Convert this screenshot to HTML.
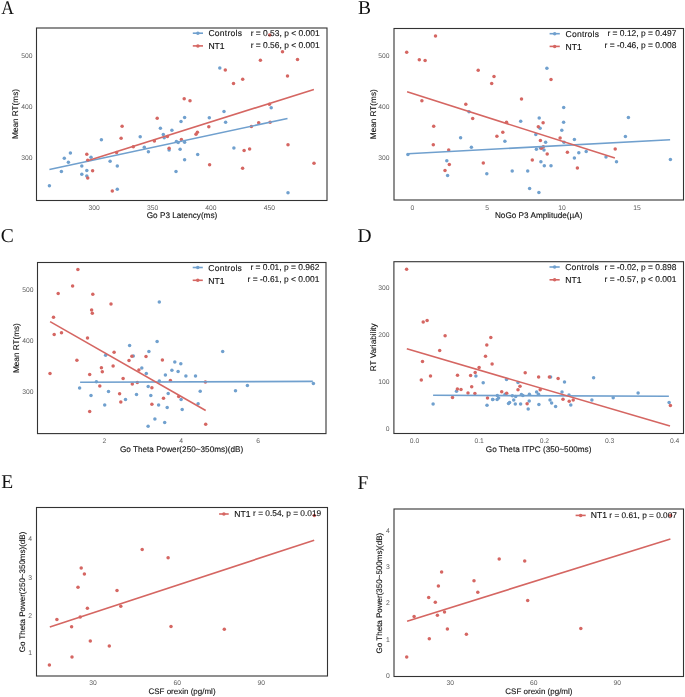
<!DOCTYPE html><html><head><meta charset="utf-8"><style>html,body{margin:0;padding:0;background:#fff;}svg{display:block;will-change:transform;text-rendering:geometricPrecision;}.s{font-family:"Liberation Sans",sans-serif;stroke-width:0.12px;paint-order:stroke;}.r{font-family:"Liberation Serif",serif;}</style></head><body>
<svg width="685" height="697" viewBox="0 0 685 697">
<rect width="685" height="697" fill="#fff"/>
<g fill="#70a0ce"><circle cx="49.4" cy="185.7" r="1.75"/><circle cx="61.4" cy="171.4" r="1.75"/><circle cx="64.3" cy="158.2" r="1.75"/><circle cx="68.4" cy="162.2" r="1.75"/><circle cx="70.4" cy="153.1" r="1.75"/><circle cx="81.8" cy="166.1" r="1.75"/><circle cx="81.8" cy="174.3" r="1.75"/><circle cx="86.8" cy="170.5" r="1.75"/><circle cx="86.8" cy="175.9" r="1.75"/><circle cx="91" cy="157.2" r="1.75"/><circle cx="101.4" cy="139.7" r="1.75"/><circle cx="110.1" cy="161.2" r="1.75"/><circle cx="117.3" cy="166.1" r="1.75"/><circle cx="117.3" cy="189.2" r="1.75"/><circle cx="140.2" cy="136.8" r="1.75"/><circle cx="144.3" cy="147.3" r="1.75"/><circle cx="148.4" cy="151.7" r="1.75"/><circle cx="160.4" cy="128.3" r="1.75"/><circle cx="163.3" cy="134.5" r="1.75"/><circle cx="164.2" cy="137.8" r="1.75"/><circle cx="171.9" cy="130.2" r="1.75"/><circle cx="181" cy="121.5" r="1.75"/><circle cx="169.1" cy="150.1" r="1.75"/><circle cx="176.4" cy="141.5" r="1.75"/><circle cx="178.2" cy="142.5" r="1.75"/><circle cx="184.6" cy="142.2" r="1.75"/><circle cx="180.1" cy="149.3" r="1.75"/><circle cx="184.6" cy="159.7" r="1.75"/><circle cx="176" cy="171.4" r="1.75"/><circle cx="197.7" cy="154.5" r="1.75"/><circle cx="225.6" cy="122.2" r="1.75"/><circle cx="233.9" cy="148" r="1.75"/><circle cx="288" cy="192.8" r="1.75"/><circle cx="219.8" cy="68.1" r="1.75"/><circle cx="184.6" cy="117.4" r="1.75"/><circle cx="209.3" cy="117.7" r="1.75"/><circle cx="224" cy="111.5" r="1.75"/><circle cx="271.2" cy="107.7" r="1.75"/></g>
<g fill="#d56662"><circle cx="86.8" cy="154.2" r="1.75"/><circle cx="87.7" cy="160.3" r="1.75"/><circle cx="92.6" cy="170.8" r="1.75"/><circle cx="87.7" cy="178.1" r="1.75"/><circle cx="112.3" cy="191.1" r="1.75"/><circle cx="121.1" cy="138.2" r="1.75"/><circle cx="122.1" cy="126.3" r="1.75"/><circle cx="116.6" cy="152.4" r="1.75"/><circle cx="133.3" cy="146.7" r="1.75"/><circle cx="154.4" cy="140.9" r="1.75"/><circle cx="167.4" cy="136.4" r="1.75"/><circle cx="169.1" cy="148.2" r="1.75"/><circle cx="181.4" cy="139.4" r="1.75"/><circle cx="196" cy="134.2" r="1.75"/><circle cx="197.4" cy="132.3" r="1.75"/><circle cx="208.8" cy="126.7" r="1.75"/><circle cx="209.6" cy="164.7" r="1.75"/><circle cx="244.1" cy="150.4" r="1.75"/><circle cx="249.6" cy="149" r="1.75"/><circle cx="242.6" cy="168.2" r="1.75"/><circle cx="288" cy="144.7" r="1.75"/><circle cx="314" cy="163.3" r="1.75"/><circle cx="251.4" cy="126.4" r="1.75"/><circle cx="258.7" cy="122.7" r="1.75"/><circle cx="270.1" cy="122.2" r="1.75"/><circle cx="225.3" cy="69.9" r="1.75"/><circle cx="184.2" cy="98.8" r="1.75"/><circle cx="190" cy="100.7" r="1.75"/><circle cx="157.2" cy="118.3" r="1.75"/><circle cx="269.7" cy="35.1" r="1.75"/><circle cx="282.5" cy="51.8" r="1.75"/><circle cx="297.5" cy="59.4" r="1.75"/><circle cx="260.4" cy="60.3" r="1.75"/><circle cx="287.5" cy="76.1" r="1.75"/><circle cx="242.7" cy="79.2" r="1.75"/><circle cx="233.5" cy="83.4" r="1.75"/><circle cx="269.4" cy="104.2" r="1.75"/></g>
<line x1="49.4" y1="169.5" x2="287.5" y2="118.5" stroke="#70a0ce" stroke-width="1.6"/>
<line x1="86.8" y1="160.9" x2="313.9" y2="89.5" stroke="#d56662" stroke-width="1.6"/>
<rect x="36.5" y="28" width="290.5" height="172.5" fill="none" stroke="#333333" stroke-width="1.1"/>
<g fill="#70a0ce"><circle cx="407.9" cy="154.5" r="1.75"/><circle cx="469" cy="111.7" r="1.75"/><circle cx="460.6" cy="137.7" r="1.75"/><circle cx="471.4" cy="147.2" r="1.75"/><circle cx="446.8" cy="160.7" r="1.75"/><circle cx="447.6" cy="175.6" r="1.75"/><circle cx="486.8" cy="173.7" r="1.75"/><circle cx="546.9" cy="68.3" r="1.75"/><circle cx="563.7" cy="107.5" r="1.75"/><circle cx="539.2" cy="118" r="1.75"/><circle cx="520.7" cy="121.3" r="1.75"/><circle cx="563.6" cy="122.2" r="1.75"/><circle cx="540.1" cy="128.3" r="1.75"/><circle cx="561.8" cy="130.2" r="1.75"/><circle cx="535.8" cy="134.5" r="1.75"/><circle cx="504.9" cy="141.3" r="1.75"/><circle cx="545.6" cy="142.3" r="1.75"/><circle cx="564" cy="142.3" r="1.75"/><circle cx="574.4" cy="139.6" r="1.75"/><circle cx="536.4" cy="149.3" r="1.75"/><circle cx="540.4" cy="147.9" r="1.75"/><circle cx="544" cy="149.9" r="1.75"/><circle cx="578.8" cy="152.8" r="1.75"/><circle cx="586.2" cy="151.5" r="1.75"/><circle cx="574.4" cy="158" r="1.75"/><circle cx="540.9" cy="161.8" r="1.75"/><circle cx="544.3" cy="165.7" r="1.75"/><circle cx="551" cy="165.8" r="1.75"/><circle cx="512.2" cy="171.1" r="1.75"/><circle cx="527.7" cy="171.1" r="1.75"/><circle cx="529.6" cy="188.6" r="1.75"/><circle cx="538.9" cy="192.4" r="1.75"/><circle cx="628.4" cy="117.5" r="1.75"/><circle cx="625.4" cy="136.6" r="1.75"/><circle cx="606" cy="156.9" r="1.75"/><circle cx="616.5" cy="161.8" r="1.75"/><circle cx="670.4" cy="159.6" r="1.75"/></g>
<g fill="#d56662"><circle cx="435.5" cy="35.9" r="1.75"/><circle cx="406.7" cy="52.2" r="1.75"/><circle cx="419.3" cy="59.8" r="1.75"/><circle cx="425.1" cy="60.6" r="1.75"/><circle cx="478.2" cy="70.3" r="1.75"/><circle cx="494" cy="76.5" r="1.75"/><circle cx="491.7" cy="83.5" r="1.75"/><circle cx="421.9" cy="100.7" r="1.75"/><circle cx="465.8" cy="104.2" r="1.75"/><circle cx="472.7" cy="118.4" r="1.75"/><circle cx="433.7" cy="126.3" r="1.75"/><circle cx="433.3" cy="144.7" r="1.75"/><circle cx="448.7" cy="149.9" r="1.75"/><circle cx="449.3" cy="164.4" r="1.75"/><circle cx="445" cy="170.5" r="1.75"/><circle cx="483.3" cy="163.1" r="1.75"/><circle cx="521.5" cy="99.1" r="1.75"/><circle cx="551" cy="79.4" r="1.75"/><circle cx="506.5" cy="122.3" r="1.75"/><circle cx="502.8" cy="132.3" r="1.75"/><circle cx="496.9" cy="136.2" r="1.75"/><circle cx="543.1" cy="122.8" r="1.75"/><circle cx="538.3" cy="126.7" r="1.75"/><circle cx="540.4" cy="140.6" r="1.75"/><circle cx="543.3" cy="146.7" r="1.75"/><circle cx="541.5" cy="148.2" r="1.75"/><circle cx="547.2" cy="154" r="1.75"/><circle cx="560.1" cy="138.1" r="1.75"/><circle cx="567.4" cy="152.3" r="1.75"/><circle cx="532.3" cy="160" r="1.75"/><circle cx="577.4" cy="167.9" r="1.75"/><circle cx="615.2" cy="148.9" r="1.75"/></g>
<line x1="407.9" y1="153.7" x2="670.1" y2="139.7" stroke="#70a0ce" stroke-width="1.6"/>
<line x1="407.1" y1="91.8" x2="614.9" y2="158.1" stroke="#d56662" stroke-width="1.6"/>
<rect x="394" y="28.5" width="289.5" height="171.5" fill="none" stroke="#333333" stroke-width="1.1"/>
<g fill="#70a0ce"><circle cx="129.6" cy="345.4" r="1.75"/><circle cx="105.6" cy="355.3" r="1.75"/><circle cx="133.3" cy="355.9" r="1.75"/><circle cx="96.4" cy="381.7" r="1.75"/><circle cx="79.6" cy="388.1" r="1.75"/><circle cx="91" cy="395.4" r="1.75"/><circle cx="108.5" cy="391.6" r="1.75"/><circle cx="125.5" cy="399.4" r="1.75"/><circle cx="104.7" cy="404.9" r="1.75"/><circle cx="136.5" cy="394.5" r="1.75"/><circle cx="159.3" cy="302.1" r="1.75"/><circle cx="157.1" cy="341.4" r="1.75"/><circle cx="148.9" cy="351.5" r="1.75"/><circle cx="222.7" cy="351.4" r="1.75"/><circle cx="174.8" cy="361.9" r="1.75"/><circle cx="180.8" cy="363.8" r="1.75"/><circle cx="141.8" cy="368.1" r="1.75"/><circle cx="146.3" cy="373.4" r="1.75"/><circle cx="171.9" cy="370.3" r="1.75"/><circle cx="178.1" cy="371.4" r="1.75"/><circle cx="165.4" cy="375" r="1.75"/><circle cx="185.9" cy="376" r="1.75"/><circle cx="195.5" cy="376" r="1.75"/><circle cx="159.3" cy="381" r="1.75"/><circle cx="148.2" cy="386.5" r="1.75"/><circle cx="200.2" cy="391.2" r="1.75"/><circle cx="150.8" cy="395.4" r="1.75"/><circle cx="168.2" cy="393.4" r="1.75"/><circle cx="181.1" cy="399.5" r="1.75"/><circle cx="198.1" cy="403.8" r="1.75"/><circle cx="158.6" cy="404.9" r="1.75"/><circle cx="167.2" cy="407.6" r="1.75"/><circle cx="182.2" cy="409.6" r="1.75"/><circle cx="154.9" cy="418.9" r="1.75"/><circle cx="164.7" cy="422.6" r="1.75"/><circle cx="148.1" cy="426.2" r="1.75"/><circle cx="235.5" cy="390.8" r="1.75"/><circle cx="247.4" cy="385.4" r="1.75"/><circle cx="313.4" cy="383.6" r="1.75"/></g>
<g fill="#d56662"><circle cx="77.9" cy="269.6" r="1.75"/><circle cx="72.6" cy="285.9" r="1.75"/><circle cx="58.2" cy="293.5" r="1.75"/><circle cx="92.8" cy="294.3" r="1.75"/><circle cx="111" cy="304" r="1.75"/><circle cx="91.6" cy="310" r="1.75"/><circle cx="92.3" cy="313.2" r="1.75"/><circle cx="53.5" cy="317.2" r="1.75"/><circle cx="54.2" cy="334.4" r="1.75"/><circle cx="61.5" cy="332.8" r="1.75"/><circle cx="87.5" cy="337.9" r="1.75"/><circle cx="76.9" cy="360.3" r="1.75"/><circle cx="50" cy="373.4" r="1.75"/><circle cx="89.7" cy="374.4" r="1.75"/><circle cx="101.4" cy="367.8" r="1.75"/><circle cx="102.3" cy="371.8" r="1.75"/><circle cx="114.1" cy="352.2" r="1.75"/><circle cx="113.1" cy="366.1" r="1.75"/><circle cx="99.8" cy="386.1" r="1.75"/><circle cx="123.1" cy="378.4" r="1.75"/><circle cx="129" cy="360.5" r="1.75"/><circle cx="131.9" cy="356.3" r="1.75"/><circle cx="132.3" cy="384.1" r="1.75"/><circle cx="119.6" cy="393.8" r="1.75"/><circle cx="120.8" cy="401.9" r="1.75"/><circle cx="89.7" cy="411.4" r="1.75"/><circle cx="146" cy="356.6" r="1.75"/><circle cx="162.4" cy="360.1" r="1.75"/><circle cx="138.9" cy="370" r="1.75"/><circle cx="170.4" cy="380.4" r="1.75"/><circle cx="205.4" cy="381.9" r="1.75"/><circle cx="137.3" cy="382.6" r="1.75"/><circle cx="151.9" cy="387.7" r="1.75"/><circle cx="163.5" cy="398.2" r="1.75"/><circle cx="178.7" cy="396.5" r="1.75"/><circle cx="151.9" cy="404.2" r="1.75"/><circle cx="205.7" cy="424.3" r="1.75"/></g>
<line x1="80.1" y1="382.3" x2="312.8" y2="381.4" stroke="#70a0ce" stroke-width="1.6"/>
<line x1="50.1" y1="321.6" x2="205.7" y2="410.5" stroke="#d56662" stroke-width="1.6"/>
<rect x="37.5" y="262.5" width="288.5" height="171.1" fill="none" stroke="#333333" stroke-width="1.1"/>
<g fill="#70a0ce"><circle cx="475.9" cy="376" r="1.75"/><circle cx="483.2" cy="382.7" r="1.75"/><circle cx="456.5" cy="391.2" r="1.75"/><circle cx="433.1" cy="403.9" r="1.75"/><circle cx="487" cy="405.2" r="1.75"/><circle cx="492.8" cy="399.5" r="1.75"/><circle cx="550.6" cy="376.9" r="1.75"/><circle cx="506.5" cy="379.4" r="1.75"/><circle cx="518" cy="382.6" r="1.75"/><circle cx="505.1" cy="394.2" r="1.75"/><circle cx="497.3" cy="395.4" r="1.75"/><circle cx="498.6" cy="398" r="1.75"/><circle cx="497.1" cy="399.5" r="1.75"/><circle cx="492.7" cy="399.6" r="1.75"/><circle cx="512.3" cy="395.8" r="1.75"/><circle cx="515.7" cy="396.5" r="1.75"/><circle cx="513.7" cy="400.1" r="1.75"/><circle cx="521.4" cy="394.6" r="1.75"/><circle cx="522.9" cy="395.4" r="1.75"/><circle cx="529.4" cy="394.2" r="1.75"/><circle cx="536.6" cy="392" r="1.75"/><circle cx="538.5" cy="394.2" r="1.75"/><circle cx="509.6" cy="402.6" r="1.75"/><circle cx="508.5" cy="403.6" r="1.75"/><circle cx="515.3" cy="404.1" r="1.75"/><circle cx="520.6" cy="403.9" r="1.75"/><circle cx="529.2" cy="401.1" r="1.75"/><circle cx="528.2" cy="408.9" r="1.75"/><circle cx="538.9" cy="404.6" r="1.75"/><circle cx="564.5" cy="382.1" r="1.75"/><circle cx="562" cy="392" r="1.75"/><circle cx="569" cy="395" r="1.75"/><circle cx="550" cy="400.1" r="1.75"/><circle cx="551.6" cy="403" r="1.75"/><circle cx="555.6" cy="406.6" r="1.75"/><circle cx="570.8" cy="404.9" r="1.75"/><circle cx="593.6" cy="377.8" r="1.75"/><circle cx="591.9" cy="400.1" r="1.75"/><circle cx="613.2" cy="397.7" r="1.75"/><circle cx="638.1" cy="393.1" r="1.75"/><circle cx="669.1" cy="402.5" r="1.75"/></g>
<g fill="#d56662"><circle cx="406.6" cy="269.3" r="1.75"/><circle cx="423.2" cy="322.1" r="1.75"/><circle cx="427.1" cy="320.5" r="1.75"/><circle cx="445.1" cy="335.7" r="1.75"/><circle cx="490.8" cy="337.5" r="1.75"/><circle cx="486.8" cy="344.9" r="1.75"/><circle cx="439.7" cy="350.6" r="1.75"/><circle cx="485.5" cy="356.2" r="1.75"/><circle cx="422.5" cy="361.4" r="1.75"/><circle cx="492.1" cy="364.1" r="1.75"/><circle cx="479.1" cy="367.6" r="1.75"/><circle cx="475.2" cy="372.5" r="1.75"/><circle cx="457.5" cy="375.3" r="1.75"/><circle cx="470.6" cy="375.4" r="1.75"/><circle cx="430.5" cy="376" r="1.75"/><circle cx="421.3" cy="380.1" r="1.75"/><circle cx="471.7" cy="386.8" r="1.75"/><circle cx="457.4" cy="388.9" r="1.75"/><circle cx="461" cy="389.5" r="1.75"/><circle cx="468" cy="393" r="1.75"/><circle cx="474.9" cy="393.4" r="1.75"/><circle cx="452.5" cy="397.5" r="1.75"/><circle cx="487.5" cy="398.1" r="1.75"/><circle cx="525.2" cy="372.7" r="1.75"/><circle cx="538.6" cy="376.9" r="1.75"/><circle cx="549.4" cy="376.9" r="1.75"/><circle cx="558.1" cy="378.5" r="1.75"/><circle cx="520" cy="386.3" r="1.75"/><circle cx="518" cy="389.7" r="1.75"/><circle cx="501.7" cy="391.7" r="1.75"/><circle cx="506.7" cy="393.2" r="1.75"/><circle cx="527.1" cy="403.7" r="1.75"/><circle cx="540.2" cy="389.8" r="1.75"/><circle cx="563" cy="399.3" r="1.75"/><circle cx="569.2" cy="401.3" r="1.75"/><circle cx="573.2" cy="399.9" r="1.75"/><circle cx="670.4" cy="405.4" r="1.75"/></g>
<line x1="433.1" y1="395.3" x2="668.9" y2="396.2" stroke="#70a0ce" stroke-width="1.6"/>
<line x1="406.8" y1="348.7" x2="670" y2="426.1" stroke="#d56662" stroke-width="1.6"/>
<rect x="393.9" y="261.7" width="289.6" height="171.8" fill="none" stroke="#333333" stroke-width="1.1"/>
<g fill="#d56662"><circle cx="81.2" cy="568" r="1.75"/><circle cx="84.4" cy="573.9" r="1.75"/><circle cx="78" cy="587.3" r="1.75"/><circle cx="117" cy="590.4" r="1.75"/><circle cx="87.4" cy="608.3" r="1.75"/><circle cx="120.8" cy="606.3" r="1.75"/><circle cx="56.9" cy="619.4" r="1.75"/><circle cx="80.2" cy="616.9" r="1.75"/><circle cx="71.6" cy="626.7" r="1.75"/><circle cx="90.3" cy="641" r="1.75"/><circle cx="109.3" cy="646.1" r="1.75"/><circle cx="72" cy="657.1" r="1.75"/><circle cx="49.4" cy="665.1" r="1.75"/><circle cx="142.2" cy="549.5" r="1.75"/><circle cx="168.1" cy="557.7" r="1.75"/><circle cx="171" cy="626.4" r="1.75"/><circle cx="224.3" cy="629.3" r="1.75"/><circle cx="314.3" cy="515.5" r="1.75"/></g>
<line x1="49.8" y1="627" x2="314.2" y2="540.2" stroke="#d56662" stroke-width="1.6"/>
<rect x="36.5" y="507.5" width="291" height="168.5" fill="none" stroke="#333333" stroke-width="1.1"/>
<g fill="#d56662"><circle cx="441.6" cy="571.9" r="1.75"/><circle cx="474" cy="580.7" r="1.75"/><circle cx="438.4" cy="585.9" r="1.75"/><circle cx="477.8" cy="592.3" r="1.75"/><circle cx="428.7" cy="597.4" r="1.75"/><circle cx="435.3" cy="602.3" r="1.75"/><circle cx="414.1" cy="616.5" r="1.75"/><circle cx="437.4" cy="615.2" r="1.75"/><circle cx="444.5" cy="612" r="1.75"/><circle cx="447.4" cy="629.1" r="1.75"/><circle cx="466.4" cy="634.2" r="1.75"/><circle cx="429.3" cy="638.8" r="1.75"/><circle cx="406.7" cy="657.1" r="1.75"/><circle cx="499.2" cy="558.9" r="1.75"/><circle cx="524.7" cy="561.1" r="1.75"/><circle cx="527.7" cy="600.6" r="1.75"/><circle cx="580.8" cy="628.6" r="1.75"/><circle cx="670.6" cy="515.5" r="1.75"/></g>
<line x1="407.1" y1="621.2" x2="670.4" y2="539" stroke="#d56662" stroke-width="1.6"/>
<rect x="394" y="509" width="289.5" height="167.5" fill="none" stroke="#333333" stroke-width="1.1"/>
<line x1="192.8" y1="33.2" x2="203" y2="33.2" stroke="#70a0ce" stroke-width="1.6"/><circle cx="197.9" cy="33.2" r="1.75" fill="#70a0ce"/>
<line x1="192.8" y1="45.9" x2="203" y2="45.9" stroke="#d56662" stroke-width="1.6"/><circle cx="197.9" cy="45.9" r="1.75" fill="#d56662"/>
<line x1="549.6" y1="33.7" x2="559.8" y2="33.7" stroke="#70a0ce" stroke-width="1.6"/><circle cx="554.7" cy="33.7" r="1.75" fill="#70a0ce"/>
<line x1="549.6" y1="46.4" x2="559.8" y2="46.4" stroke="#d56662" stroke-width="1.6"/><circle cx="554.7" cy="46.4" r="1.75" fill="#d56662"/>
<line x1="192.7" y1="267.5" x2="202.8" y2="267.5" stroke="#70a0ce" stroke-width="1.6"/><circle cx="197.75" cy="267.5" r="1.75" fill="#70a0ce"/>
<line x1="192.7" y1="280.3" x2="202.8" y2="280.3" stroke="#d56662" stroke-width="1.6"/><circle cx="197.75" cy="280.3" r="1.75" fill="#d56662"/>
<line x1="549.5" y1="267" x2="559.7" y2="267" stroke="#70a0ce" stroke-width="1.6"/><circle cx="554.6" cy="267" r="1.75" fill="#70a0ce"/>
<line x1="549.5" y1="279.8" x2="559.7" y2="279.8" stroke="#d56662" stroke-width="1.6"/><circle cx="554.6" cy="279.8" r="1.75" fill="#d56662"/>
<line x1="219.1" y1="514" x2="228.7" y2="514" stroke="#d56662" stroke-width="1.6"/><circle cx="223.9" cy="514" r="1.75" fill="#d56662"/>
<line x1="575.6" y1="515.4" x2="585.7" y2="515.4" stroke="#d56662" stroke-width="1.6"/><circle cx="580.65" cy="515.4" r="1.75" fill="#d56662"/>
<text class="r" x="0.8" y="13.8" font-size="19.5" text-anchor="start" fill="#111111" transform="translate(1.2 0) scale(0.9 1) translate(-0.8 0)">A</text>
<text class="r" x="357.9" y="14.4" font-size="19.5" text-anchor="start" fill="#111111">B</text>
<text class="r" x="0.8" y="242.1" font-size="19.5" text-anchor="start" fill="#111111">C</text>
<text class="r" x="357.5" y="241.8" font-size="19.5" text-anchor="start" fill="#111111">D</text>
<text class="r" x="1.2" y="488" font-size="19.5" text-anchor="start" fill="#111111">E</text>
<text class="r" x="357.6" y="489.3" font-size="19.5" text-anchor="start" fill="#111111">F</text>
<text class="s" x="32.4" y="57.8" font-size="6.75" text-anchor="end" fill="#5c5c5c">500</text>
<text class="s" x="32.4" y="108.9" font-size="6.75" text-anchor="end" fill="#5c5c5c">400</text>
<text class="s" x="32.4" y="160.3" font-size="6.75" text-anchor="end" fill="#5c5c5c">300</text>
<text class="s" x="94.2" y="209.6" font-size="6.75" text-anchor="middle" fill="#5c5c5c">300</text>
<text class="s" x="152.6" y="209.6" font-size="6.75" text-anchor="middle" fill="#5c5c5c">350</text>
<text class="s" x="211" y="209.6" font-size="6.75" text-anchor="middle" fill="#5c5c5c">400</text>
<text class="s" x="269.4" y="209.6" font-size="6.75" text-anchor="middle" fill="#5c5c5c">450</text>
<text class="s" x="182" y="218.4" font-size="8.2" text-anchor="middle" fill="#111111" stroke="#111111">Go P3 Latency(ms)</text>
<text class="s" x="18.2" y="114" font-size="8.2" text-anchor="middle" fill="#111111" stroke="#111111" transform="rotate(-90 18.2 114)">Mean RT(ms)</text>
<text class="s" x="389.6" y="58.2" font-size="6.75" text-anchor="end" fill="#5c5c5c">500</text>
<text class="s" x="389.6" y="108.9" font-size="6.75" text-anchor="end" fill="#5c5c5c">400</text>
<text class="s" x="389.6" y="160.2" font-size="6.75" text-anchor="end" fill="#5c5c5c">300</text>
<text class="s" x="412.3" y="209.6" font-size="6.75" text-anchor="middle" fill="#5c5c5c">0</text>
<text class="s" x="487.2" y="209.6" font-size="6.75" text-anchor="middle" fill="#5c5c5c">5</text>
<text class="s" x="562.1" y="209.6" font-size="6.75" text-anchor="middle" fill="#5c5c5c">10</text>
<text class="s" x="637" y="209.6" font-size="6.75" text-anchor="middle" fill="#5c5c5c">15</text>
<text class="s" x="538.7" y="217.8" font-size="8.2" text-anchor="middle" fill="#111111" stroke="#111111">NoGo P3 Amplitude(µA)</text>
<text class="s" x="376.2" y="114.2" font-size="8.2" text-anchor="middle" fill="#111111" stroke="#111111" transform="rotate(-90 376.2 114.2)">Mean RT(ms)</text>
<text class="s" x="33.4" y="291.7" font-size="6.75" text-anchor="end" fill="#5c5c5c">500</text>
<text class="s" x="33.4" y="342.9" font-size="6.75" text-anchor="end" fill="#5c5c5c">400</text>
<text class="s" x="33.4" y="394.2" font-size="6.75" text-anchor="end" fill="#5c5c5c">300</text>
<text class="s" x="104.3" y="443" font-size="6.75" text-anchor="middle" fill="#5c5c5c">2</text>
<text class="s" x="181.1" y="443" font-size="6.75" text-anchor="middle" fill="#5c5c5c">4</text>
<text class="s" x="258.2" y="443" font-size="6.75" text-anchor="middle" fill="#5c5c5c">6</text>
<text class="s" x="181.6" y="451.7" font-size="8.2" text-anchor="middle" fill="#111111" stroke="#111111">Go Theta Power(250~350ms)(dB)</text>
<text class="s" x="19.3" y="348.1" font-size="8.2" text-anchor="middle" fill="#111111" stroke="#111111" transform="rotate(-90 19.3 348.1)">Mean RT(ms)</text>
<text class="s" x="389.6" y="289.9" font-size="6.75" text-anchor="end" fill="#5c5c5c">300</text>
<text class="s" x="389.6" y="337" font-size="6.75" text-anchor="end" fill="#5c5c5c">200</text>
<text class="s" x="389.6" y="383.9" font-size="6.75" text-anchor="end" fill="#5c5c5c">100</text>
<text class="s" x="389.6" y="431" font-size="6.75" text-anchor="end" fill="#5c5c5c">0</text>
<text class="s" x="414.5" y="443" font-size="6.75" text-anchor="middle" fill="#5c5c5c">0.0</text>
<text class="s" x="479.1" y="443" font-size="6.75" text-anchor="middle" fill="#5c5c5c">0.1</text>
<text class="s" x="544.4" y="443" font-size="6.75" text-anchor="middle" fill="#5c5c5c">0.2</text>
<text class="s" x="609.6" y="443" font-size="6.75" text-anchor="middle" fill="#5c5c5c">0.3</text>
<text class="s" x="674.6" y="443" font-size="6.75" text-anchor="middle" fill="#5c5c5c">0.4</text>
<text class="s" x="538.6" y="451.7" font-size="8.2" text-anchor="middle" fill="#111111" stroke="#111111">Go Theta ITPC (350~500ms)</text>
<text class="s" x="375.7" y="347.3" font-size="8.2" text-anchor="middle" fill="#111111" stroke="#111111" transform="rotate(-90 375.7 347.3)">RT Variability</text>
<text class="s" x="32" y="541.45" font-size="6.8" text-anchor="end" fill="#5c5c5c">4</text>
<text class="s" x="32" y="579.55" font-size="6.8" text-anchor="end" fill="#5c5c5c">3</text>
<text class="s" x="32" y="617.65" font-size="6.8" text-anchor="end" fill="#5c5c5c">2</text>
<text class="s" x="32" y="655.45" font-size="6.8" text-anchor="end" fill="#5c5c5c">1</text>
<text class="s" x="93.1" y="685" font-size="6.75" text-anchor="middle" fill="#5c5c5c">30</text>
<text class="s" x="177.2" y="685" font-size="6.75" text-anchor="middle" fill="#5c5c5c">60</text>
<text class="s" x="261.3" y="685" font-size="6.75" text-anchor="middle" fill="#5c5c5c">90</text>
<text class="s" x="182" y="693.6" font-size="8.0" text-anchor="middle" fill="#111111" stroke="#111111">CSF orexin (pg/ml)</text>
<text class="s" x="25" y="592" font-size="8.0" text-anchor="middle" fill="#111111" stroke="#111111" transform="rotate(-90 25 592)">Go Theta Power(250~350ms)(dB)</text>
<text class="s" x="389.8" y="533.05" font-size="6.8" text-anchor="end" fill="#5c5c5c">4</text>
<text class="s" x="389.8" y="569.05" font-size="6.8" text-anchor="end" fill="#5c5c5c">3</text>
<text class="s" x="389.8" y="605.35" font-size="6.8" text-anchor="end" fill="#5c5c5c">2</text>
<text class="s" x="389.8" y="641.85" font-size="6.8" text-anchor="end" fill="#5c5c5c">1</text>
<text class="s" x="389.8" y="677.95" font-size="6.8" text-anchor="end" fill="#5c5c5c">0</text>
<text class="s" x="450.3" y="685.2" font-size="6.75" text-anchor="middle" fill="#5c5c5c">30</text>
<text class="s" x="533.8" y="685.2" font-size="6.75" text-anchor="middle" fill="#5c5c5c">60</text>
<text class="s" x="617.3" y="685.2" font-size="6.75" text-anchor="middle" fill="#5c5c5c">90</text>
<text class="s" x="538.9" y="693.9" font-size="8.0" text-anchor="middle" fill="#111111" stroke="#111111">CSF orexin (pg/ml)</text>
<text class="s" x="382.5" y="593.1" font-size="8.0" text-anchor="middle" fill="#111111" stroke="#111111" transform="rotate(-90 382.5 593.1)">Go Theta Power(350~500ms)(dB)</text>
<text class="s" x="208.4" y="36.3" font-size="8.6" text-anchor="start" fill="#111111" stroke="#111111" letter-spacing="0.22">Controls</text>
<text class="s" x="208.4" y="49.2" font-size="8.6" text-anchor="start" fill="#111111" stroke="#111111">NT1</text>
<text class="s" x="319.6" y="35.9" font-size="8.45" text-anchor="end" fill="#111111" stroke="#111111">r = 0.53, p &lt; 0.001</text>
<text class="s" x="319.6" y="47.7" font-size="8.45" text-anchor="end" fill="#111111" stroke="#111111">r = 0.56, p &lt; 0.001</text>
<text class="s" x="565.5" y="36.7" font-size="8.6" text-anchor="start" fill="#111111" stroke="#111111" letter-spacing="0.22">Controls</text>
<text class="s" x="565.5" y="49.5" font-size="8.6" text-anchor="start" fill="#111111" stroke="#111111">NT1</text>
<text class="s" x="676.4" y="36.2" font-size="8.45" text-anchor="end" fill="#111111" stroke="#111111">r = 0.12, p = 0.497</text>
<text class="s" x="676.4" y="48.2" font-size="8.45" text-anchor="end" fill="#111111" stroke="#111111">r = -0.46, p = 0.008</text>
<text class="s" x="208.3" y="270.8" font-size="8.6" text-anchor="start" fill="#111111" stroke="#111111" letter-spacing="0.22">Controls</text>
<text class="s" x="208.3" y="283.6" font-size="8.6" text-anchor="start" fill="#111111" stroke="#111111">NT1</text>
<text class="s" x="319.4" y="270.2" font-size="8.45" text-anchor="end" fill="#111111" stroke="#111111">r = 0.01, p = 0.962</text>
<text class="s" x="319.4" y="281.9" font-size="8.45" text-anchor="end" fill="#111111" stroke="#111111">r = -0.61, p &lt; 0.001</text>
<text class="s" x="565.2" y="270.1" font-size="8.6" text-anchor="start" fill="#111111" stroke="#111111" letter-spacing="0.22">Controls</text>
<text class="s" x="565.2" y="283" font-size="8.6" text-anchor="start" fill="#111111" stroke="#111111">NT1</text>
<text class="s" x="676.4" y="270" font-size="8.45" text-anchor="end" fill="#111111" stroke="#111111">r = -0.02, p = 0.898</text>
<text class="s" x="676.4" y="282.3" font-size="8.45" text-anchor="end" fill="#111111" stroke="#111111">r = -0.57, p &lt; 0.001</text>
<text class="s" x="234.3" y="516.7" font-size="8.6" text-anchor="start" fill="#111111" stroke="#111111">NT1</text>
<text class="s" x="321.2" y="516.2" font-size="8.33" text-anchor="end" fill="#111111" stroke="#111111">r = 0.54, p = 0.019</text>
<text class="s" x="590.7" y="518.4" font-size="8.6" text-anchor="start" fill="#111111" stroke="#111111">NT1</text>
<text class="s" x="676.9" y="517.9" font-size="8.28" text-anchor="end" fill="#111111" stroke="#111111">r = 0.61, p = 0.007</text>
</svg></body></html>
